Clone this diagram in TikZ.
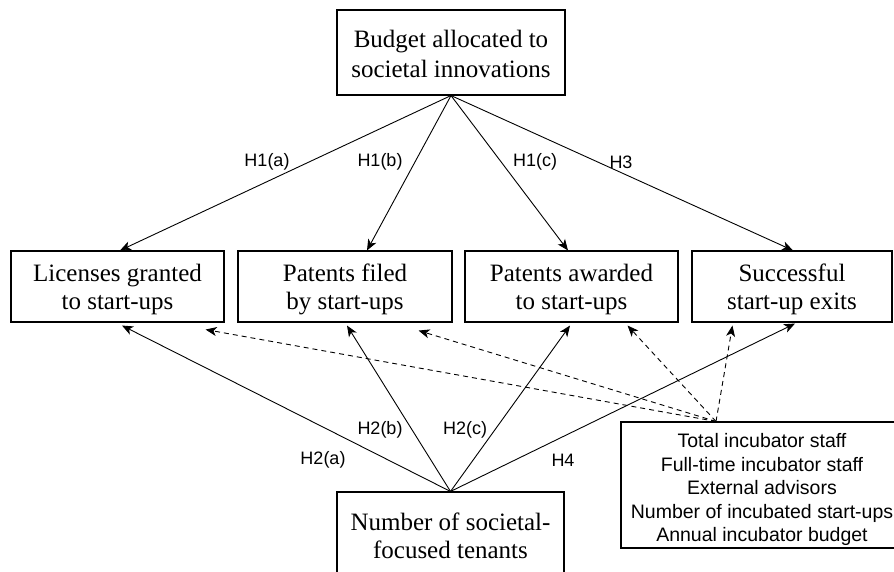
\documentclass[tikz,border=0pt]{standalone}
\usepackage{fontspec}
\setmainfont{Liberation Serif}
\setsansfont{Liberation Sans}
\usetikzlibrary{arrows.meta, positioning}

\tikzset{
    var/.style={draw, line width=1.1pt, align=center, inner sep=0pt,
        font=\fontsize{25}{28}\selectfont},
    ctrl/.style={draw, line width=1.1pt, align=center, inner sep=0pt,
        font=\sffamily\fontsize{19.5}{23.5}\selectfont},
    hyp/.style={inner sep=1pt, font=\sffamily\fontsize{18}{20}\selectfont},
    link/.style={-{Stealth[length=11pt,width=9pt,inset=3pt]}, line width=0.9pt},
    ctrllink/.style={link, dash pattern=on 5pt off 4pt}
}
% pushes a box's text a little down
\newcommand{\lowr}[1]{\rule{0pt}{#1}}

\begin{document}
\begin{tikzpicture}[x=1pt, y=-1pt]
    \useasboundingbox (0,0) rectangle (894,572);

    % Independent variables
    \node[var, minimum width=228pt, minimum height=85pt,
        font=\fontsize{25}{30}\selectfont] (budget) at (451,52.5)
        {\lowr{21pt}Budget allocated to\\societal innovations};
    \node[var, minimum width=227pt, minimum height=88pt] (tenants) at (450.5,536)
        {Number of societal-\\focused tenants};

    % Outcomes
    \node[var, minimum width=213pt, minimum height=71pt] (licenses) at (117.5,286.5)
        {\lowr{23pt}Licenses granted\\to start-ups};
    \node[var, minimum width=214pt, minimum height=71pt] (filed) at (345,286.5)
        {\lowr{23pt}Patents filed\\by start-ups};
    \node[var, minimum width=213pt, minimum height=71pt] (awarded) at (571.5,286.5)
        {\lowr{23pt}Patents awarded\\to start-ups};
    \node[var, minimum width=200pt, minimum height=71pt] (exits) at (792,286.5)
        {\lowr{23pt}Successful\\start-up exits};

    % Controls
    \node[ctrl, minimum width=282pt, minimum height=126pt] (controls) at (762,485)
        {\lowr{24pt}Total incubator staff\\Full-time incubator staff\\External advisors\\
         Number of incubated start-ups\\Annual incubator budget};

    % Hypotheses from the budget
    \draw[link] (budget.south) -- ([xshift=2.5pt]licenses.north);
    \draw[link] (budget.south) -- ([xshift=22pt]filed.north);
    \draw[link] (budget.south) -- ([xshift=-3.5pt]awarded.north);
    \draw[link] (budget.south) -- ([xshift=1pt]exits.north);
    \node[hyp] (h1a) at (267,162) {H1(a)};
    \node[hyp] (h1b) at (380,162) {H1(b)};
    \node[hyp] (h1c) at (535,162) {H1(c)};
    \node[hyp] (h3) at (621,162) {H3};

    % Hypotheses from the tenants
    \draw[link] (tenants.north) -- ([xshift=4.5pt,yshift=-3pt]licenses.south);
    \draw[link] (tenants.north) -- ([xshift=2pt,yshift=-3pt]filed.south);
    \draw[link] (tenants.north) -- ([xshift=-1.5pt,yshift=-3pt]awarded.south);
    \draw[link] (tenants.north) -- ([xshift=3pt,yshift=-1pt]exits.south);
    \node[hyp] (h2a) at (323,460) {H2(a)};
    \node[hyp] (h2b) at (380,430) {H2(b)};
    \node[hyp] (h2c) at (465,430) {H2(c)};
    \node[hyp] (h4) at (563,460) {H4};

    % Control links
    \coordinate (cc) at ([xshift=-46pt]controls.north);
    \draw[ctrllink] (cc) -- ([xshift=-19pt,yshift=-7pt]licenses.south east);
    \draw[ctrllink] (cc) -- ([xshift=-34pt,yshift=-8pt]filed.south east);
    \draw[ctrllink] (cc) -- ([xshift=-51pt,yshift=-3pt]awarded.south east);
    \draw[ctrllink] (cc) -- ([xshift=41pt,yshift=-3pt]exits.south west);
\end{tikzpicture}
\end{document}
